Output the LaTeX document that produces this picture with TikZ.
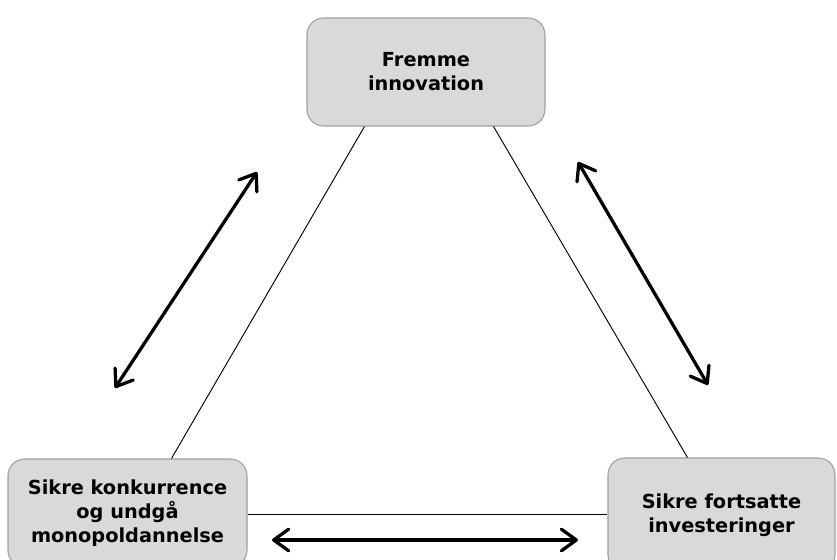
\documentclass[tikz,border=0pt]{standalone}
\usepackage{fontspec}
\setmainfont{DejaVu Sans}
\usepackage{tikz}
\usetikzlibrary{arrows.meta,calc}
\definecolor{boxfill}{RGB}{217, 217, 217}
\definecolor{boxline}{RGB}{160, 160, 160}

\begin{document}
\begin{tikzpicture}[x=0.03cm, y=-0.03cm,
    goal/.style={draw=boxline, fill=boxfill, rounded corners=5mm, line width=0.9pt,
        align=center, font=\fontsize{16.5}{20.5}\selectfont\bfseries, inner sep=0pt},
    link/.style={line width=0.8pt},
    pull/.style={line width=2.8pt, {Straight Barb[round,length=4.5mm,width=6.5mm]}-{Straight Barb[round,length=4.5mm,width=6.5mm]}}]
\useasboundingbox (0,0) rectangle (837,560);
% Goals
\node[goal, minimum width=238*0.03cm, minimum height=108*0.03cm] (innov) at (426,72) {Fremme\\innovation};
\node[goal, minimum width=239*0.03cm, minimum height=108*0.03cm] (konk) at (127.5,513) {Sikre konkurrence\\og undgå\\monopoldannelse};
\node[goal, minimum width=227*0.03cm, minimum height=114*0.03cm] (invest) at (721.5,515) {Sikre fortsatte\\investeringer};
% Triangle
\draw[link] ($(innov.south west)+(58,0)$) -- ($(konk.north west)+(164,0)$);
\draw[link] ($(innov.south east)+(-52,0)$) -- ($(invest.north west)+(80,0)$);
\draw[link] ($(konk.east)+(0,1)$) -- ($(invest.west)+(0,-1)$);
% Trade-offs
\coordinate (lefthi) at (257,172);
\coordinate (leftlo) at (115,388);
\coordinate (righthi) at (578,162);
\coordinate (rightlo) at (708,385);
\coordinate (bottoml) at (272,540);
\coordinate (bottomr) at (578,540);
\draw[pull] (leftlo) -- (lefthi);
\draw[pull] (righthi) -- (rightlo);
\draw[pull] (bottoml) -- (bottomr);
\end{tikzpicture}
\end{document}
